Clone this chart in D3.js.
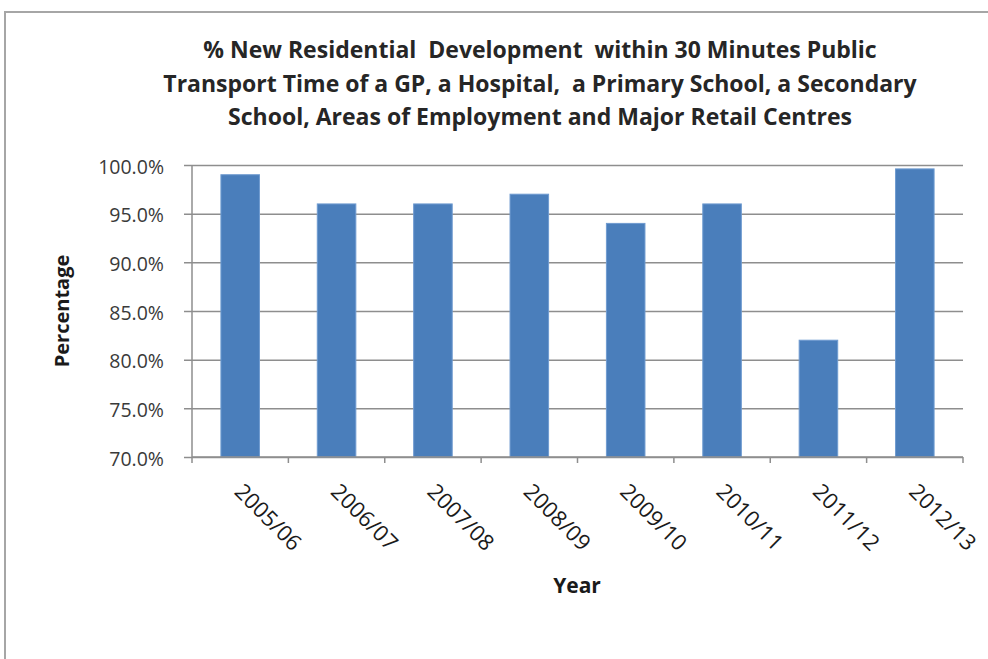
<!DOCTYPE html>
<html>
<head>
<meta charset="utf-8">
<script src="https://cdn.jsdelivr.net/npm/d3@7"></script>
<style>
  html, body { margin: 0; padding: 0; background: #fff; }
  svg { display: block; font-family: "Open Sans", Lato, sans-serif; }
</style>
</head>
<body>
<svg id="chart" width="988" height="659"></svg>
<script>
// Financial years and share of new residential development within reach
const years = ["2005/06", "2006/07", "2007/08", "2008/09", "2009/10", "2010/11", "2011/12", "2012/13"];
const shareValues = [99.0, 96.0, 96.0, 97.0, 94.0, 96.0, 82.0, 99.6];
const yTicks = [70, 75, 80, 85, 90, 95, 100];
const titleLines = [
  "% New Residential  Development  within 30 Minutes Public",
  "Transport Time of a GP, a Hospital,  a Primary School, a Secondary",
  "School, Areas of Employment and Major Retail Centres"
];

const svg = d3.select("#chart");
const W = 988, H = 659;
const plot = { left: 192, right: 963, top: 165, bottom: 457 };
const FONT = "'Open Sans', Lato, sans-serif";

// Outer chart frame
svg.append("rect")
  .attr("x", 5).attr("y", 12)
  .attr("width", W + 10).attr("height", H + 10)
  .attr("fill", "#fff")
  .attr("stroke", "#a6a6a6").attr("stroke-width", 2);

const x = d3.scaleBand().domain(years).range([plot.left, plot.right]).paddingInner(0.6).paddingOuter(0.3);
const y = d3.scaleLinear().domain([70, 100]).range([plot.bottom, plot.top]);

// Horizontal gridlines with tick labels
const yAxis = d3.axisLeft(y)
  .tickValues(yTicks)
  .tickSize(-(plot.right - plot.left))
  .tickSizeOuter(0)
  .tickPadding(28)
  .tickFormat(d => d.toFixed(1) + "%");

const gy = svg.append("g").attr("transform", `translate(${plot.left},0)`).call(yAxis);
gy.select(".domain").remove();
gy.selectAll(".tick line").attr("stroke", "#8e8e8e").attr("stroke-width", 1.5).attr("x1", -8);
gy.selectAll(".tick text")
  .attr("fill", "#3a3a3a").attr("font-size", 19.5).attr("font-family", FONT)
  .attr("dy", "0.42em");

// Bars
svg.append("g").selectAll("rect")
  .data(years.map((yr, i) => ({ yr, v: shareValues[i] })))
  .join("rect")
  .attr("x", d => x(d.yr))
  .attr("y", d => y(d.v))
  .attr("width", x.bandwidth())
  .attr("height", d => y(70) - y(d.v))
  .attr("fill", "#4a7ebb")
  .attr("stroke", "#6f9bd0").attr("stroke-width", 1);

// Vertical axis line
svg.append("line")
  .attr("x1", plot.left).attr("x2", plot.left)
  .attr("y1", plot.top).attr("y2", plot.bottom)
  .attr("stroke", "#8e8e8e").attr("stroke-width", 1.5);

// Category axis with ticks between categories
const step = (plot.right - plot.left) / years.length;
const boundaries = d3.range(years.length + 1).map(i => plot.left + i * step);
const gx = svg.append("g");
gx.append("line")
  .attr("x1", plot.left).attr("x2", plot.right)
  .attr("y1", plot.bottom).attr("y2", plot.bottom)
  .attr("stroke", "#8e8e8e").attr("stroke-width", 1.5);
gx.selectAll("line.tk")
  .data(boundaries)
  .join("line").attr("class", "tk")
  .attr("x1", d => d).attr("x2", d => d)
  .attr("y1", plot.bottom).attr("y2", plot.bottom + 6)
  .attr("stroke", "#8e8e8e").attr("stroke-width", 1.5);

gx.selectAll("text")
  .data(years)
  .join("text")
  .attr("transform", d => `translate(${x(d) + x.bandwidth() / 2 - 7},${plot.bottom + 36}) rotate(45)`)
  .attr("text-anchor", "start")
  .attr("font-size", 22)
  .attr("font-family", FONT)
  .attr("fill", "#1a1a1a")
  .text(d => d);

// Title
svg.append("g").selectAll("text")
  .data(titleLines)
  .join("text")
  .attr("x", 540)
  .attr("y", (d, i) => 58 + i * 33.5)
  .attr("text-anchor", "middle")
  .attr("font-size", 23)
  .attr("font-weight", "bold")
  .attr("font-family", FONT)
  .attr("fill", "#262626")
  .style("white-space", "pre")
  .text(d => d);

// Axis titles
svg.append("text")
  .attr("transform", "translate(69,311) rotate(-90)")
  .attr("text-anchor", "middle")
  .attr("font-size", 20).attr("font-weight", "bold").attr("font-family", FONT).attr("fill", "#1a1a1a")
  .text("Percentage");

svg.append("text")
  .attr("x", 577).attr("y", 593)
  .attr("text-anchor", "middle")
  .attr("font-size", 21).attr("font-weight", "bold").attr("font-family", FONT).attr("fill", "#1a1a1a")
  .text("Year");
</script>
</body>
</html>
